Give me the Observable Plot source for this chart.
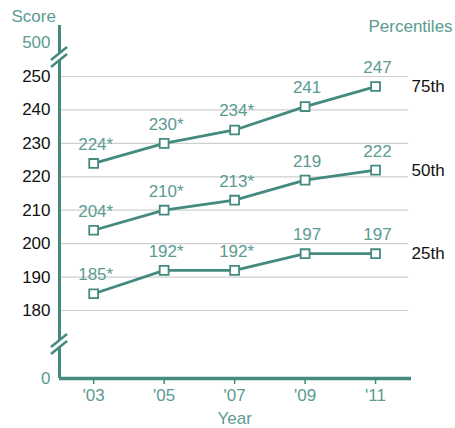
<!DOCTYPE html>
<html><head><meta charset="utf-8">
<script src="https://cdn.jsdelivr.net/npm/d3@7"></script>
<script src="https://cdn.jsdelivr.net/npm/@observablehq/plot@0.6"></script>
<style>body{margin:0;background:#fff}</style>
</head><body><div id="chart"></div>
<script>
const years = [2003, 2005, 2007, 2009, 2011];
const yearLabels = ["'03", "'05", "'07", "'09", "'11"];
const p75 = [224, 230, 234, 241, 247];
const p50 = [204, 210, 213, 219, 222];
const p25 = [185, 192, 192, 197, 197];
const sig75 = [true, true, true, false, false];
const sig50 = [true, true, true, false, false];
const sig25 = [true, true, true, false, false];
const percentiles = ["75th", "50th", "25th"];
const gridTicks = [180, 190, 200, 210, 220, 230, 240, 250];
const breakTicks = [0, 500];

const teal = "#448a7f";
const tealText = "#5b9b91";
const fs = 17;

const series = [[p75, sig75], [p50, sig50], [p25, sig25]];
const rows = [];
series.forEach(([vals, sig], s) => vals.forEach((v, i) => rows.push({
  pct: percentiles[s], year: years[i], value: v, label: v + (sig[i] ? "*" : "")
})));
const lastRows = rows.filter(d => d.year === years[years.length - 1]);

const xmin = 2002.03, xmax = 2012.02;
const ytop = 620;
// broken-axis scale: score -> vertical position
const breakMap = d3.scaleLinear().domain([0, 170, 255, 500, ytop]).range([378, 343.4, 59.3, 42, 25]);

const plot = Plot.plot({
  width: 455, height: 428,
  marginLeft: 59, marginRight: 44, marginTop: 25, marginBottom: 50,
  style: {fontFamily: "'Liberation Sans', Arial, sans-serif", fontSize: fs + "px", background: "white"},
  x: {domain: [xmin, xmax], range: [59, 411], axis: null},
  y: {transform: breakMap, domain: [378, 25], range: [378, 25], axis: null},
  marks: [
    Plot.ruleY(gridTicks, {x1: xmin, x2: 2011.94, stroke: "#cfcfcf", strokeWidth: 1.2}),
    Plot.ruleX([xmin], {y1: 0, y2: ytop, stroke: teal, strokeWidth: 3}),
    Plot.ruleY([0], {x1: xmin, x2: xmax, stroke: teal, strokeWidth: 3.5}),
    Plot.axisX(years, {tickSize: 6, tickPadding: 4, tickFormat: (d) => yearLabels[years.indexOf(d)], stroke: teal, color: teal, fill: tealText, fontSize: fs, label: null, strokeWidth: 1.5}),
    Plot.text(gridTicks, {x: xmin, y: d => d, dx: -9, textAnchor: "end", fill: "#111", fontSize: fs}),
    Plot.text(breakTicks, {x: xmin, y: d => d, dx: -9, textAnchor: "end", fill: tealText, fontSize: fs}),
    Plot.line(rows, {x: "year", y: "value", z: "pct", stroke: teal, strokeWidth: 2.8}),
    Plot.dot(rows, {x: "year", y: "value", symbol: "square", r: 5, fill: "white", stroke: teal, strokeWidth: 1.8}),
    Plot.text(rows, {x: "year", y: "value", text: "label", dy: -19, dx: 2, fill: tealText, fontSize: fs}),
    Plot.text(lastRows, {x: "year", y: "value", text: "pct", dx: 36, textAnchor: "start", fill: "#111", fontSize: fs}),
    Plot.text(["Score"], {frameAnchor: "top-left", dx: -48, dy: -16, fill: tealText, fontSize: fs, textAnchor: "start"}),
    Plot.text(["Percentiles"], {frameAnchor: "top-right", dx: -43, dy: -6, fill: tealText, fontSize: fs, textAnchor: "start"}),
    Plot.text(["Year"], {x: 2007, y: 0, dy: 40, fill: tealText, fontSize: fs})
  ]
});
document.getElementById("chart").appendChild(plot);

// axis break marks
const svg = d3.select(plot);
const xs = plot.scale("x").apply(xmin);
const breaks = [breakMap(288), breakMap(167)];
breaks.forEach(by => {
  const g = svg.append("g");
  g.append("polygon")
    .attr("points", `${xs-9},${by+10} ${xs+9},${by-3} ${xs+9},${by-10} ${xs-9},${by+3}`)
    .attr("fill", "white");
  [-3.5, 3.5].forEach(o => g.append("line")
    .attr("x1", xs - 8).attr("y1", by + 6.5 + o)
    .attr("x2", xs + 8).attr("y2", by - 6.5 + o)
    .attr("stroke", teal).attr("stroke-width", 2.5));
});
</script></body></html>
